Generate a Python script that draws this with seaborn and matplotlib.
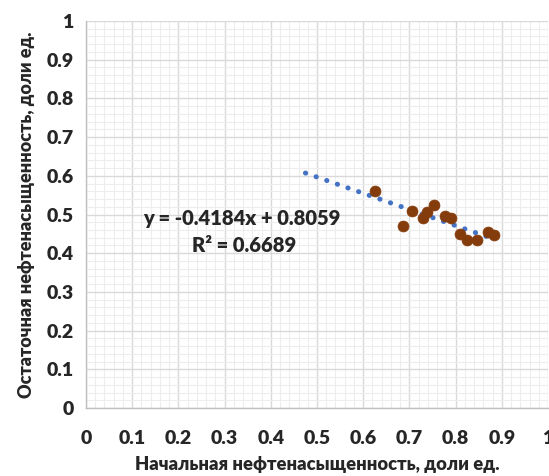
import matplotlib
matplotlib.use("Agg")
import matplotlib.pyplot as plt
import numpy as np
import pandas as pd
import seaborn as sns

# Data
initial_sat = [0.625, 0.686, 0.706, 0.730, 0.738, 0.754, 0.778, 0.790,
               0.809, 0.825, 0.847, 0.871, 0.883]
residual_sat = [0.562, 0.470, 0.509, 0.492, 0.506, 0.524, 0.496, 0.492,
                0.450, 0.434, 0.434, 0.454, 0.448]
trend_slope = -0.4184
trend_intercept = 0.8059
trend_r2 = 0.6689
trend_x_range = [0.475, 0.883]
tick_values = [0, 0.1, 0.2, 0.3, 0.4, 0.5, 0.6, 0.7, 0.8, 0.9, 1]
tick_labels = ["0", "0.1", "0.2", "0.3", "0.4", "0.5", "0.6", "0.7", "0.8", "0.9", "1"]
x_label = "Начальная нефтенасыщенность, доли ед."
y_label = "Остаточная нефтенасыщенность, доли ед."

sns.set_style("white")
plt.rcParams['font.family'] = ['Lato', 'DejaVu Sans']

W, H = 549, 476
fig = plt.figure(figsize=(W / 100, H / 100), dpi=100)
left, right, top, bottom = 86, 548, 21, 408
ax = fig.add_axes([left / W, (H - bottom) / H, (right - left) / W, (bottom - top) / H])

# grid
ax.set_xlim(0, 1)
ax.set_ylim(0, 1)
ax.set_xticks(tick_values)
ax.set_yticks(tick_values)
ax.set_xticks(np.arange(0, 1.0001, 0.02), minor=True)
ax.set_yticks(np.arange(0, 1.0001, 0.02), minor=True)
ax.grid(which="major", color="#D9D9D9", linewidth=1.0)
ax.grid(which="minor", color="#EDEDED", linewidth=0.8)
ax.set_axisbelow(True)
ax.tick_params(which="both", length=0)
for s in ["top", "right"]:
    ax.spines[s].set_visible(False)
for s in ["left", "bottom"]:
    ax.spines[s].set_color("#BFBFBF")
    ax.spines[s].set_linewidth(1.0)

# trendline from equation
tx = np.array(trend_x_range)
ty = trend_slope * tx + trend_intercept
ax.plot(tx, ty, color="#4472C4", linewidth=3.6, linestyle=(0, (0.05, 2.2)),
        dash_capstyle="round", zorder=2)

df = pd.DataFrame({"x": initial_sat, "y": residual_sat})
sns.scatterplot(data=df, x="x", y="y", ax=ax, color="#843C0C", s=62,
                edgecolor="#843C0C", linewidth=0.5, zorder=3)

ax.set_xticklabels(tick_labels, fontsize=14, fontweight="heavy")
ax.set_yticklabels(tick_labels, fontsize=14, fontweight="heavy")
ax.tick_params(axis="x", pad=16)
ax.tick_params(axis="y", pad=9)

ax.set_xlabel(x_label, fontsize=13.2, fontweight="heavy", labelpad=6)
ax.set_ylabel(y_label, fontsize=13.0, fontweight="heavy", labelpad=8)

ax.text(0.338, 0.490, f"y = {trend_slope}x + {trend_intercept}", fontsize=14.5,
        fontweight="heavy", ha="center", va="center", transform=ax.transData)
ax.text(0.342, 0.420, f"R² = {trend_r2}", fontsize=14.5,
        fontweight="heavy", ha="center", va="center", transform=ax.transData)

fig.savefig("out.png", dpi=100)
